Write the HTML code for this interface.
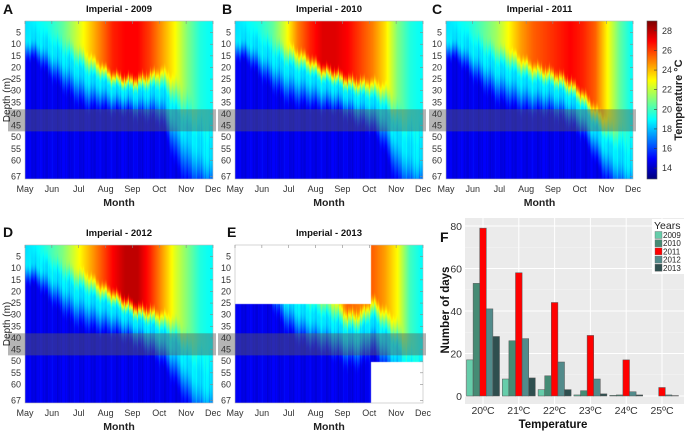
<!DOCTYPE html>
<html><head><meta charset="utf-8">
<style>
body{margin:0;background:#fff;width:685px;height:432px;overflow:hidden;position:relative;font-family:"Liberation Sans",Arial,sans-serif}
canvas{position:absolute}
svg{position:absolute;left:0;top:0}
</style></head>
<body>
<canvas id="cA" width="188" height="158" style="left:25px;top:21px"></canvas>
<canvas id="cB" width="188" height="158" style="left:235px;top:21px"></canvas>
<canvas id="cC" width="187" height="158" style="left:446px;top:21px"></canvas>
<canvas id="cD" width="188" height="158" style="left:25px;top:245px"></canvas>
<canvas id="cE" width="188" height="158" style="left:235px;top:245px"></canvas>
<canvas id="cbar" width="10" height="158" style="left:647px;top:21px"></canvas>
<svg id="s" width="685" height="432"></svg>
<script>
// Heatmap data: semi-monthly points May 1 .. Dec 1
const sst2009=[18.5,19,19.5,20.5,22,23.5,25,26.5,27,27,26,24.5,23,21,19.5,19];
const mld2009=[0,0,2,5,8,12,16,20,22,22,20,18,22,28,36,42];
const thk2009=[7,8,10,11,12,12,10,9,8,9,10,12,18,20,18,16];
const sst2010=[18.5,19,19.5,20.5,22.5,25,26.5,27.5,27.5,27,26,25,23.5,21,19.5,19];
const mld2010=[0,0,2,5,8,10,13,17,19,22,23,23,25,32,38,42];
const thk2010=[7,8,10,11,12,12,11,10,9,9,10,11,14,18,18,16];
const sst2011=[18.5,19,19.5,20.5,21.5,23,24.5,25.5,26,26.5,27,26.5,25.5,23,20.5,19];
const mld2011=[0,0,2,5,8,10,13,16,18,20,23,28,34,40,42,46];
const thk2011=[7,8,10,11,12,12,12,11,10,10,10,10,12,14,16,15];
const sst2012=[18.5,19,20,21,22.5,24,25.5,27,28,28,26.5,24.5,22.5,21,19.5,19];
const mld2012=[0,0,2,5,8,10,14,17,21,24,25,27,29,35,40,44];
const thk2012=[7,8,10,11,12,12,11,10,9,9,10,11,14,16,18,16];
const sst2013=[16.5,17,17.5,18,19,20,21,22,23,25.5,25,25.5,24.5,23,20,19];
const mld2013=[0,0,0,5,10,15,18,20,22,26,26,20,25,30,40,45];
const thk2013=[8,8,8,10,12,12,12,12,12,12,12,12,14,16,18,16];
const deepT=15;
// Bar chart data
const cats=["20ºC","21ºC","22ºC","23ºC","24ºC","25ºC"];
const years=["2009","2010","2011","2012","2013"];
const v2009=[17,8,3,0.5,0.3,0];
const v2010=[53,26,9.5,2.5,0.5,0];
const v2011=[79,58,44,28.5,17,4];
const v2012=[41,27,16,8,2,0.5];
const v2013=[28,8.5,3,1,0.5,0.2];
const yTicks=[0,20,40,60,80];
const depthTicks=[5,10,15,20,25,30,35,40,45,50,55,60,67];
const months=["May","Jun","Jul","Aug","Sep","Oct","Nov","Dec"];
const cbTicks=[14,16,18,20,22,24,26,28];

const TMIN=13,TMAX=29;
function jet(v){v=Math.max(0,Math.min(1,v));
 const f=x=>Math.max(0,Math.min(1,x));
 return [f(1.5-Math.abs(4*v-3)),f(1.5-Math.abs(4*v-2)),f(1.5-Math.abs(4*v-1))].map(c=>Math.round(c*255));}
function lerpArr(a,t){const p=t*(a.length-1);const i=Math.min(a.length-2,Math.floor(p));const f=p-i;return a[i]*(1-f)+a[i+1]*f;}
function smooth(u){u=Math.max(0,Math.min(1,u));return u*u*(3-2*u);}
function drawHeat(id,sst,mld,thk,mask){
 const c=document.getElementById(id),ctx=c.getContext('2d');const W=c.width,H=c.height;
 const img=ctx.createImageData(W,H);
 for(let x=0;x<W;x++){const t=x/(W-1);const s=lerpArr(sst,t),m=lerpArr(mld,t),k=lerpArr(thk,t);
  const stripe=Math.sin(x*1.7)*0.3+Math.sin(x*0.53)*0.35+Math.sin(x*3.1)*0.25;
  const mm=m+stripe*2.5;
  const mid=Math.min(s,18.6);
  const k2=Math.max(10,k*1.4);
  for(let y=0;y<H;y++){const d=y/H*68;
   let T;
   if(d<mm+k) T=s-(s-mid)*smooth((d-mm)/k);
   else T=mid-(mid-deepT+0.3)*smooth((d-mm-k)/k2);
   T+=stripe*0.6*smooth((d-mm)/10);
   let col=jet((T-TMIN)/(TMAX-TMIN));
   if(mask&&mask(t,d))col=[255,255,255];
   const o=(y*W+x)*4;img.data[o]=col[0];img.data[o+1]=col[1];img.data[o+2]=col[2];img.data[o+3]=255;}}
 ctx.putImageData(img,0,0);}
drawHeat('cA',sst2009,mld2009,thk2009);
drawHeat('cB',sst2010,mld2010,thk2010);
drawHeat('cC',sst2011,mld2011,thk2011);
drawHeat('cD',sst2012,mld2012,thk2012);
drawHeat('cE',sst2013,mld2013,thk2013,(t,d)=>(t<0.727&&d<25)||(t>=0.727&&d>50));
(function(){const c=document.getElementById('cbar'),ctx=c.getContext('2d');
 for(let y=0;y<158;y++){const T=TMAX-(y/157)*(TMAX-TMIN);const col=jet((T-TMIN)/(TMAX-TMIN));ctx.fillStyle=`rgb(${col})`;ctx.fillRect(0,y,10,1);}})();

const S=document.getElementById('s');const NS='http://www.w3.org/2000/svg';
function el(tag,attrs,txt){const e=document.createElementNS(NS,tag);for(const k in attrs)e.setAttribute(k,attrs[k]);if(txt!==undefined)e.textContent=txt;S.appendChild(e);return e;}
const panels=[
 {L:'A',title:'Imperial - 2009',x0:25,x1:213,y0:21,y1:179,lx:3,ly:14,depthTitle:true},
 {L:'B',title:'Imperial - 2010',x0:235,x1:423,y0:21,y1:179,lx:222,ly:14},
 {L:'C',title:'Imperial - 2011',x0:446,x1:633,y0:21,y1:179,lx:432,ly:14},
 {L:'D',title:'Imperial - 2012',x0:25,x1:213,y0:245,y1:403,lx:3,ly:237,depthTitle:true},
 {L:'E',title:'Imperial - 2013',x0:235,x1:423,y0:245,y1:403,lx:227,ly:237}];
panels.forEach(p=>{
 const dY=d=>p.y0+d/68*(p.y1-p.y0);
 const mX=i=>p.x0+i/7*(p.x1-p.x0);
 let e=el('rect',{x:p.x0,y:p.y0,width:p.x1-p.x0,height:p.y1-p.y0,fill:'none',stroke:'#bbb','stroke-width':0.6});
 
 e=el('rect',{x:p.x0-17,y:dY(38),width:p.x1-p.x0+20,height:dY(47.5)-dY(38),fill:'rgba(90,90,90,0.45)'});
 
 e=el('text',{x:p.lx,y:p.ly,'font-size':14,'font-weight':'bold',fill:'#111'},p.L);
 
 e=el('text',{x:(p.x0+p.x1)/2,y:p.y0-9,'font-size':9.5,'font-weight':'bold','text-anchor':'middle',fill:'#111'},p.title);
 
 depthTicks.forEach(d=>{
  e=el('text',{x:p.x0-4,y:dY(d)+3,'font-size':9,'text-anchor':'end',fill:'#333'},d);
  
  e=el('line',{x1:p.x1-3,x2:p.x1,y1:dY(d),y2:dY(d),stroke:'#888','stroke-width':0.6});
  });
 months.forEach((m,i)=>{
  e=el('text',{x:mX(i),y:p.y1+13,'font-size':9,'text-anchor':'middle',fill:'#333'},m);
  
  e=el('line',{x1:mX(i),x2:mX(i),y1:p.y0,y2:p.y0+3,stroke:'#888','stroke-width':0.6});
  });
 e=el('text',{x:(p.x0+p.x1)/2,y:p.y1+27,'font-size':10.5,'font-weight':'bold','text-anchor':'middle',fill:'#222'},'Month');
 
 if(p.depthTitle){e=el('text',{x:0,y:0,'font-size':10,'text-anchor':'middle',fill:'#222',transform:`translate(10,${(p.y0+p.y1)/2}) rotate(-90)`},'Depth (m)');
  }
});
// colorbar ticks
cbTicks.forEach(t=>{const y=21+(TMAX-t)/(TMAX-TMIN)*157;
 let e=el('text',{x:662,y:y+3,'font-size':9,fill:'#333'},t);
 
 e=el('line',{x1:654,x2:657,y1:y,y2:y,stroke:'#333','stroke-width':0.6});
 });
let cbt=el('text',{x:0,y:0,'font-size':11,'font-weight':'bold','text-anchor':'middle',fill:'#222',transform:'translate(682,100) rotate(-90)'},'Temperature °C');

el('rect',{x:647,y:21,width:10,height:158,fill:'none',stroke:'#555','stroke-width':0.6});

// Bar chart F
const bx0=465,bx1=684,by0=218,by1=404;
const yS=v=>396-v/80*170;
const catX=i=>483+i*35.8;
const bw=6.6;
const series=[v2009,v2010,v2011,v2012,v2013];
const colors=['#66cdaa','#458b74','#ff0000','#528b8b','#2f4f4f'];
let e=el('text',{x:440,y:242,'font-size':14,'font-weight':'bold',fill:'#111'},'F');

e=el('rect',{x:bx0,y:by0,width:bx1-bx0,height:by1-by0,fill:'#ebebeb'});

[10,30,50,70].forEach(v=>{el('line',{x1:bx0,x2:bx1,y1:yS(v),y2:yS(v),stroke:'#f5f5f5','stroke-width':0.5});});
yTicks.forEach(v=>{
 e=el('line',{x1:bx0,x2:bx1,y1:yS(v),y2:yS(v),stroke:'#fff','stroke-width':1});
 
 e=el('text',{x:bx0-3,y:yS(v)+4,'font-size':10.5,'text-anchor':'end',fill:'#333'},v);
 });
cats.forEach((c,i)=>{
 e=el('line',{x1:catX(i),x2:catX(i),y1:by0,y2:by1,stroke:'#fff','stroke-width':1});
 
 e=el('text',{x:catX(i),y:414,'font-size':10.5,'text-anchor':'middle',fill:'#333'},c);
 });
series.forEach((arr,s)=>arr.forEach((v,i)=>{
 const x=catX(i)+(s-2.5)*bw;
 const b=el('rect',{x:x,y:yS(v),width:bw,height:yS(0)-yS(v),fill:colors[s],stroke:'#555','stroke-width':0.5});
 
 }));
e=el('text',{x:553,y:428,'font-size':11.5,'font-weight':'bold','text-anchor':'middle',fill:'#111'},'Temperature');

e=el('text',{x:0,y:0,'font-size':11.5,'font-weight':'bold','text-anchor':'middle',fill:'#111',transform:'translate(449,310) rotate(-90)'},'Number of days');

e=el('rect',{x:652,y:219,width:32,height:55,fill:'#fff'});

e=el('text',{x:654,y:229,'font-size':10.5,fill:'#222'},'Years');

years.forEach((y,s)=>{
 const yy=231.5+s*8.2;
 e=el('rect',{x:655,y:yy,width:7,height:7,fill:colors[s],stroke:'#666','stroke-width':0.4});
 
 e=el('text',{x:663,y:yy+6.5,'font-size':8,fill:'#222'},y);
 });
</script>
</body></html>
